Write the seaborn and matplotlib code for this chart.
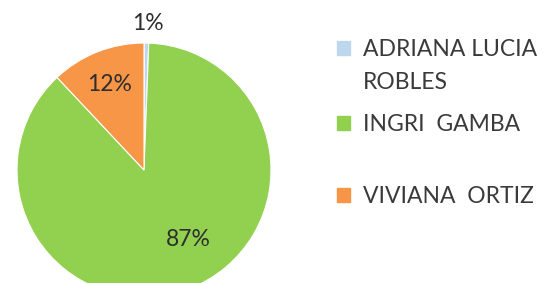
import matplotlib
matplotlib.use("Agg")
import matplotlib.pyplot as plt
import matplotlib.patches as mpatches
import seaborn as sns

# Data
candidates = ["ADRIANA LUCIA ROBLES", "INGRI  GAMBA", "VIVIANA  ORTIZ"]
shares = [0.6, 87.4, 12.0]
colors = ["#BDD7EE", "#92D050", "#F79646"]

sns.set_theme(style="white")
plt.rcParams['font.family'] = ['Lato', 'DejaVu Sans']

W, H = 547, 283
fig = plt.figure(figsize=(W / 100, H / 100), dpi=100)
fig.patch.set_facecolor("white")

# pie axes: center (144,170) px from top-left, radius 127
R = 127
cx, cy = 144, 170
ax = fig.add_axes([(cx - R) / W, (H - cy - R) / H, 2 * R / W, 2 * R / H])
wedges, texts, autotexts = ax.pie(
    shares, colors=colors, startangle=90, counterclock=False,
    autopct='%.0f%%', pctdistance=0.7,
    wedgeprops=dict(edgecolor="white", linewidth=0.8),
    textprops=dict(color="#2e2e2e", fontsize=16.5),
)
ax.set_xlim(-1, 1)
ax.set_ylim(-1, 1)
ax.set_aspect("auto")
ax.axis("off")
# label placement (as in the reference)
autotexts[0].set_position((0.03, 1.15))
autotexts[1].set_position((0.35, -0.545))
autotexts[2].set_position((-0.27, 0.67))
for t in autotexts:
    t.set_ha("center"); t.set_va("center")

fs = 16.5
common = dict(frameon=False, borderpad=0, borderaxespad=0, handlelength=0.55,
              handleheight=0.55, handletextpad=0.6, fontsize=fs,
              labelcolor="#3a3a3a", loc="center left")
hx = 337 / W
legA = fig.legend(handles=[mpatches.Patch(color=colors[0]),
                           mpatches.Patch(facecolor="none", edgecolor="none")],
                  labels=["ADRIANA LUCIA", "ROBLES"], labelspacing=0.5,
                  bbox_to_anchor=(hx, 1 - 66 / H), **common)
legB = fig.legend(handles=[mpatches.Patch(color=colors[1])], labels=[candidates[1]],
                  bbox_to_anchor=(hx, 1 - 124.5 / H), **common)
legC = fig.legend(handles=[mpatches.Patch(color=colors[2])], labels=[candidates[2]],
                  bbox_to_anchor=(hx, 1 - 196.5 / H), **common)

fig.savefig("out.png", dpi=100, facecolor="white")
